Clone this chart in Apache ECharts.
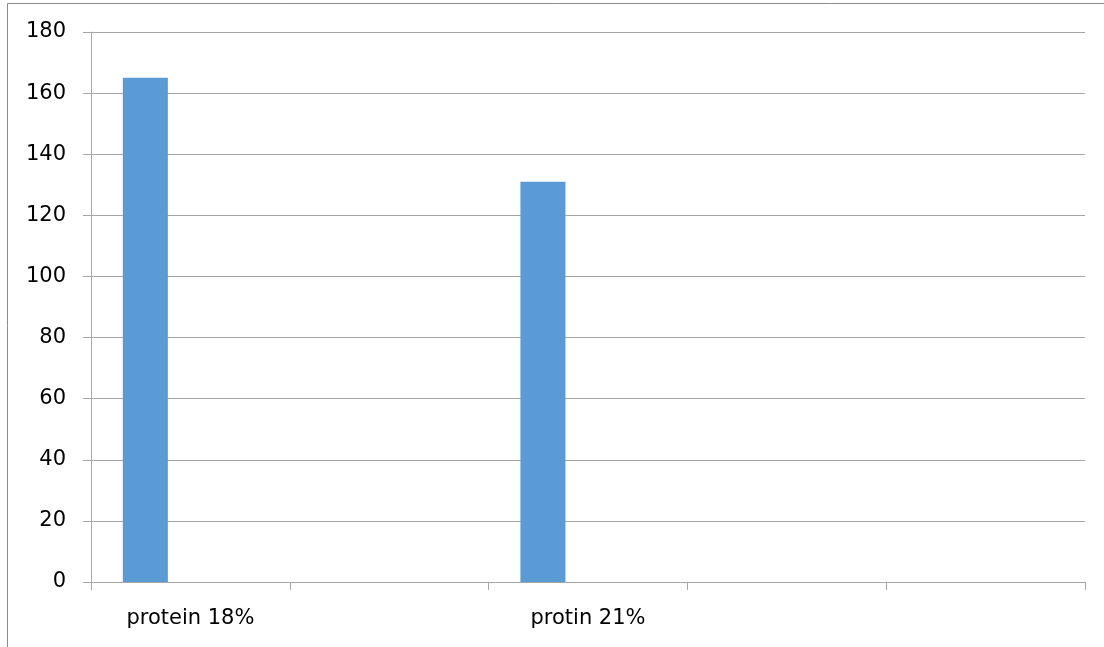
<!DOCTYPE html>
<html>
<head>
<meta charset="utf-8">
<script src="https://cdn.jsdelivr.net/npm/echarts@6/dist/echarts.min.js"></script>
<style>
  html, body { margin: 0; padding: 0; background: #fff; }
  #chart { width: 1104px; height: 647px; }
</style>
</head>
<body>
<div id="chart"></div>
<script>
// categories on the x axis (empty slots are unlabeled in the source)
var categories = ['protein 18%', '', 'protin 21%', '', ''];
// three clustered series, only the first one holds values
var series1 = [165, null, 131, null, null];
var series2 = [null, null, null, null, null];
var series3 = [null, null, null, null, null];
var yTicks = { min: 0, max: 180, step: 20 };

var myChart = echarts.init(document.getElementById('chart'));
var gridColor = '#a6a6a6';
var textStyle = { fontFamily: 'DejaVu Sans', fontSize: 21, color: '#000' };

var option = {
    animation: false,
    backgroundColor: '#fff',
    // chart area border (cropped on the right and bottom)
    graphic: [{
        type: 'rect',
        shape: { x: 7.5, y: 3.5, width: 1300, height: 800 },
        style: { fill: 'none', stroke: '#8c8c8c', lineWidth: 1 },
        silent: true
    }],
    grid: { left: 91, right: 19, top: 32, bottom: 65, containLabel: false },
    xAxis: {
        type: 'category',
        data: categories,
        boundaryGap: true,
        axisLine: { lineStyle: { color: gridColor, width: 1 } },
        axisTick: { show: true, interval: 0, length: 8, lineStyle: { color: gridColor } },
        axisLabel: Object.assign({ interval: 0, margin: 26 }, textStyle),
        splitLine: { show: false }
    },
    yAxis: {
        type: 'value',
        min: yTicks.min,
        max: yTicks.max,
        interval: yTicks.step,
        axisLine: { show: true, lineStyle: { color: gridColor, width: 1 } },
        axisTick: { show: true, length: 8, lineStyle: { color: gridColor } },
        axisLabel: Object.assign({ margin: 25 }, textStyle),
        splitLine: { show: true, lineStyle: { color: gridColor, width: 1 } }
    },
    series: [
        { name: 's1', type: 'bar', data: series1, barGap: '0%', barCategoryGap: '32%',
          itemStyle: { color: '#5b9bd5' } },
        { name: 's2', type: 'bar', data: series2, barGap: '0%', barCategoryGap: '32%',
          itemStyle: { color: '#ed7d31' } },
        { name: 's3', type: 'bar', data: series3, barGap: '0%', barCategoryGap: '32%',
          itemStyle: { color: '#a5a5a5' } }
    ]
};

myChart.setOption(option);
window.addEventListener('resize', myChart.resize);
</script>
</body>
</html>
